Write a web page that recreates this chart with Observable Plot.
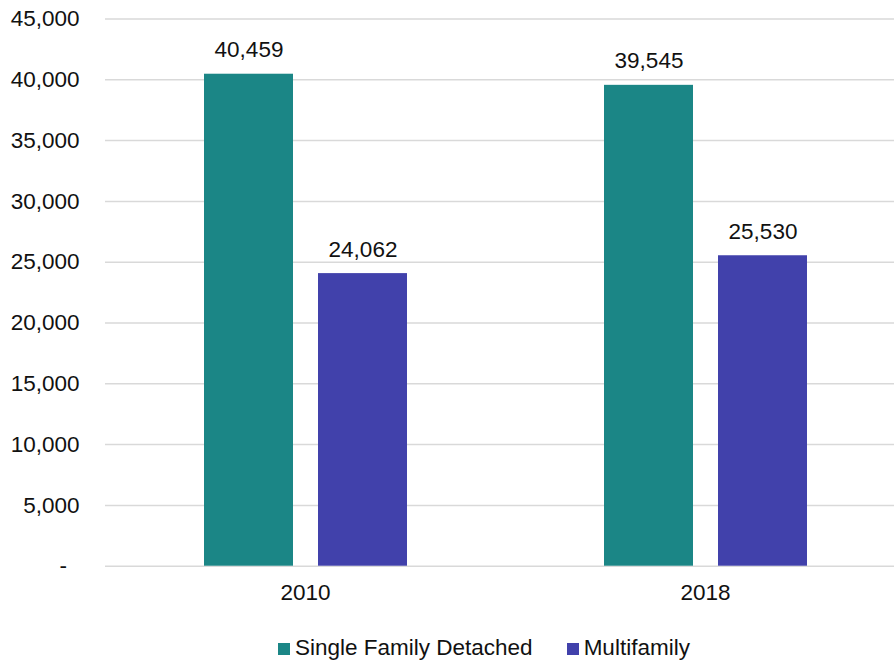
<!DOCTYPE html>
<html>
<head>
<meta charset="utf-8">
<script src="https://cdn.jsdelivr.net/npm/d3@7"></script>
<script src="https://cdn.jsdelivr.net/npm/@observablehq/plot@0.6"></script>
<style>
  html, body { margin: 0; padding: 0; background: #fff; }
  body { width: 894px; height: 663px; overflow: hidden; font-family: "Liberation Sans", Arial, sans-serif; }
  #legend { display: flex; align-items: center; padding-left: 278px; margin-top: 15px; font-size: 22.5px; line-height: 26px; color: #111; }
  .item { display: flex; align-items: center; margin-right: 34px; }
  .sw { width: 12px; height: 12px; margin-right: 5px; margin-top: 1px; }
</style>
</head>
<body>
<div id="chart"></div>
<div id="legend"></div>
<script>
const years = ["2010", "2018"];
const series = ["Single Family Detached", "Multifamily"];
const singleFamily = [40459, 39545];
const multifamily = [24062, 25530];
const colors = ["#1b8686", "#4141ab"];
const yTicks = [0, 5000, 10000, 15000, 20000, 25000, 30000, 35000, 40000, 45000];

const data = [];
years.forEach((yr, i) => {
  data.push({year: yr, series: series[0], value: singleFamily[i]});
  data.push({year: yr, series: series[1], value: multifamily[i]});
});

const fmt = d3.format(",");

const chart = Plot.plot({
  width: 894,
  height: 620,
  marginLeft: 106,
  marginRight: 0,
  marginTop: 18.5,
  marginBottom: 54.3,
  style: {fontFamily: "'Liberation Sans', Arial, sans-serif", fontSize: "22.5px", color: "#111", background: "#fff"},
  fx: {domain: years, range: [105, 905], padding: 0, axis: "bottom", tickSize: 0, tickPadding: 18, label: null},
  x: {domain: series, paddingInner: 0.2193, paddingOuter: 0.864, axis: null},
  y: {domain: [0, 45000], ticks: yTicks, tickSize: 0, tickPadding: 26, label: null,
      tickFormat: d => d === 0 ? "-\u2007" : fmt(d)},
  color: {domain: series, range: colors},
  marks: [
    Plot.ruleY(yTicks, {stroke: "#d9d9d9", strokeWidth: 1.5}),
    Plot.barY(data, {fx: "year", x: "series", y: "value", fill: "series"}),
    Plot.text(data, {fx: "year", x: "series", y: "value", text: d => fmt(d.value), lineAnchor: "bottom", dy: -17, fill: "#111"})
  ]
});
document.getElementById("chart").appendChild(chart);

const legend = document.getElementById("legend");
series.forEach((s, i) => {
  const item = document.createElement("div");
  item.className = "item";
  const sw = document.createElement("span");
  sw.className = "sw";
  sw.style.background = colors[i];
  const t = document.createElement("span");
  t.textContent = s;
  item.appendChild(sw);
  item.appendChild(t);
  legend.appendChild(item);
});
</script>
</body>
</html>
